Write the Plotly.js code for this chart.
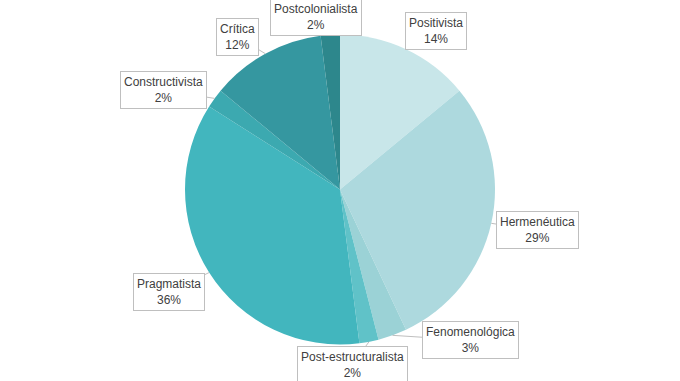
<!DOCTYPE html>
<html><head><meta charset="utf-8">
<script src="https://cdn.plot.ly/plotly-3.0.1.min.js"></script>
<style>html,body{margin:0;padding:0;background:#fff}#c{width:680px;height:381px}</style>
</head><body><div id="c"></div>
<script>
const categories = ["Positivista","Hermenéutica","Fenomenológica","Post-estructuralista","Pragmatista","Constructivista","Crítica","Postcolonialista"];
const shares = [14,29,3,2,36,2,12,2];
const sliceColors = ["#c8e6e9","#add9de","#9bd2d6","#60c2c8","#42b6be","#3ca9b0","#3597a0","#2d878c"];
// label box offsets (px) from the slice's outer edge point
const labelOffsets = [[30,-18],[46,7],[78,5],[-17,23],[-40,19],[-51,-8],[-28,-17],[-14,-18]];

const W = 680, H = 381;
const cx = 340, cy = 189.5, R = 155;
const dom = {x:[(cx-R)/W,(cx+R)/W], y:[1-(cy+R)/H, 1-(cy-R)/H]};

const total = shares.reduce((a,b)=>a+b,0);
let cum = 0;
const annotations = categories.map((name,i)=>{
  const mid = (cum + shares[i]/2)/total*2*Math.PI;
  cum += shares[i];
  const px = cx + R*Math.sin(mid), py = cy - R*Math.cos(mid);
  return {
    x: px/W, y: 1-py/H, xref:'paper', yref:'paper',
    text: name + '<br>' + Math.round(shares[i]/total*100) + '%',
    showarrow:true, arrowhead:0, arrowwidth:1, arrowcolor:'#bfbfbf',
    ax: labelOffsets[i][0], ay: labelOffsets[i][1],
    bgcolor:'#ffffff', bordercolor:'#bfbfbf', borderwidth:1, borderpad:3,
    font:{family:'Liberation Sans, Arial, sans-serif', size:12, color:'#404040'},
    align:'center', standoff:0
  };
});

const data = [{
  type:'pie', labels:categories, values:shares, sort:false, direction:'clockwise',
  rotation:0, marker:{colors:sliceColors, line:{width:0}},
  textinfo:'none', hoverinfo:'label+percent', domain:dom, showlegend:false
}];
const layout = {
  width:W, height:H, margin:{l:0,r:0,t:0,b:0},
  paper_bgcolor:'#ffffff', showlegend:false, annotations:annotations
};
Plotly.newPlot('c', data, layout, {displayModeBar:false, staticPlot:true});
</script></body></html>
